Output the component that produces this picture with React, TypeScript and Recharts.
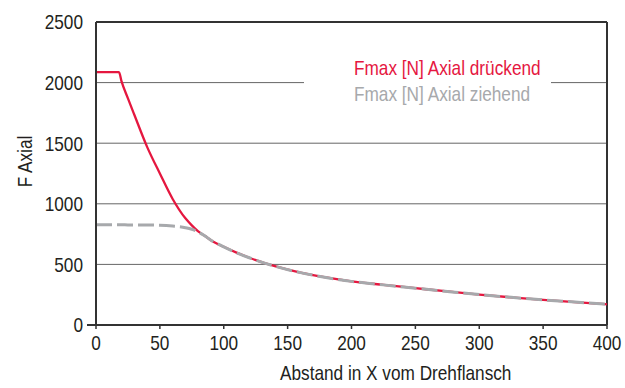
import {
  LineChart,
  Line,
  XAxis,
  YAxis,
  CartesianGrid,
  Legend,
  ReferenceLine,
} from "recharts";

// Abstand in X (mm)
const abstand = [0, 18, 20, 25, 30, 40, 50, 60, 70, 75, 80, 85, 90, 100, 110, 120, 140, 160, 180, 200, 225, 250, 275, 300, 325, 350, 375, 400];
// Fmax [N] Axial drückend
const fDrueckend = [2086, 2086, 2010, 1870, 1735, 1470, 1250, 1040, 880, 822, 772, 736, 700, 645, 597, 555, 485, 432, 392, 360, 331, 304, 277, 251, 228, 207, 189, 171];
// Fmax [N] Axial ziehend
const fZiehend = [828, 827, 827, 826, 826, 825, 823, 816, 803, 790, 768, 736, 700, 645, 597, 555, 485, 432, 392, 360, 331, 304, 277, 251, 228, 207, 189, 171];

const xTicks = [0, 50, 100, 150, 200, 250, 300, 350, 400];
const yTicks = [0, 500, 1000, 1500, 2000, 2500];

const data = abstand.map((x, i) => ({
  x,
  druck: fDrueckend[i],
  zug: fZiehend[i],
}));

// no Arial Narrow here, so Liberation Sans squeezed horizontally
const FONT = "'Liberation Sans', Arial, sans-serif";
const NARROW = 0.82;
const FS = 21;
const TEXT = "#231f20";
const AXIS = "#333333";
const RED = "#e5173f";
const GREY = "#a7a9ac";

const NarrowText = ({ x, y, anchor = "start", dy, angle = 0, children, fill = TEXT }: any) => (
  <g transform={`translate(${x},${y}) rotate(${angle}) scale(${NARROW},1)`}>
    <text x={0} y={0} dy={dy} textAnchor={anchor} fill={fill} fontSize={FS} fontFamily={FONT}>
      {children}
    </text>
  </g>
);

const XTick = ({ x, y, payload }: any) => (
  <NarrowText x={x} y={y} dy="0.71em" anchor="middle">
    {payload.value}
  </NarrowText>
);

const YTick = ({ x, y, payload }: any) => (
  <g>
    {payload.value === 0 && (
      <line x1={x + 4} x2={x + 13} y1={y} y2={y} stroke={AXIS} strokeWidth={2} />
    )}
    <NarrowText x={x} y={y} dy="0.35em" anchor="end">
      {payload.value}
    </NarrowText>
  </g>
);

const XTitle = ({ viewBox }: any) => (
  <NarrowText x={viewBox.x + 184} y={viewBox.y + 55}>
    Abstand in X vom Drehflansch
  </NarrowText>
);

const YTitle = ({ viewBox }: any) => (
  <NarrowText x={viewBox.x + 32} y={viewBox.y + viewBox.height / 2 - 12} anchor="middle" angle={-90}>
    F Axial
  </NarrowText>
);

const LegendBox = ({ payload }: any) => (
  <div
    style={{
      background: "#fff",
      width: 247,
      height: 52,
      paddingLeft: 50,
      boxSizing: "border-box",
      fontFamily: FONT,
      fontSize: FS,
      lineHeight: "26px",
      whiteSpace: "nowrap",
    }}
  >
    {(payload || []).map((entry: any) => (
      <div
        key={entry.value}
        style={{ color: entry.color, transform: `scaleX(${NARROW})`, transformOrigin: "left" }}
      >
        {entry.value}
      </div>
    ))}
  </div>
);

export default function App() {
  return (
    <div style={{ position: "absolute", left: 0, top: 0 }}>
      <LineChart
        width={625}
        height={388}
        data={data}
        margin={{ top: 22, right: 18, bottom: 0, left: 0 }}
      >
        <CartesianGrid horizontal vertical={false} stroke="#666" strokeWidth={1} />
        <XAxis
          dataKey="x"
          type="number"
          domain={[0, 400]}
          ticks={xTicks}
          height={63}
          tickSize={4}
          tickMargin={6}
          axisLine={{ stroke: AXIS, strokeWidth: 2 }}
          tickLine={{ stroke: AXIS, strokeWidth: 1.5 }}
          tick={<XTick />}
          label={<XTitle />}
        />
        <YAxis
          type="number"
          domain={[0, 2500]}
          ticks={yTicks}
          width={96}
          tickSize={9}
          tickMargin={4}
          tickLine={false}
          axisLine={{ stroke: AXIS, strokeWidth: 2 }}
          tick={<YTick />}
          label={<YTitle />}
        />
        <ReferenceLine y={2500} stroke={AXIS} strokeWidth={2} />
        <ReferenceLine x={400} stroke={AXIS} strokeWidth={2} />
        <Legend
          layout="vertical"
          align="center"
          verticalAlign="middle"
          content={<LegendBox />}
          wrapperStyle={{ left: 304, top: 55, width: 247, height: 52 }}
        />
        <Line
          name="Fmax [N] Axial drückend"
          type="monotone"
          dataKey="druck"
          stroke={RED}
          strokeWidth={2.3}
          dot={false}
          isAnimationActive={false}
        />
        <Line
          name="Fmax [N] Axial ziehend"
          type="monotone"
          dataKey="zug"
          stroke={GREY}
          strokeWidth={3}
          strokeDasharray="16 5"
          dot={false}
          isAnimationActive={false}
        />
      </LineChart>
    </div>
  );
}
